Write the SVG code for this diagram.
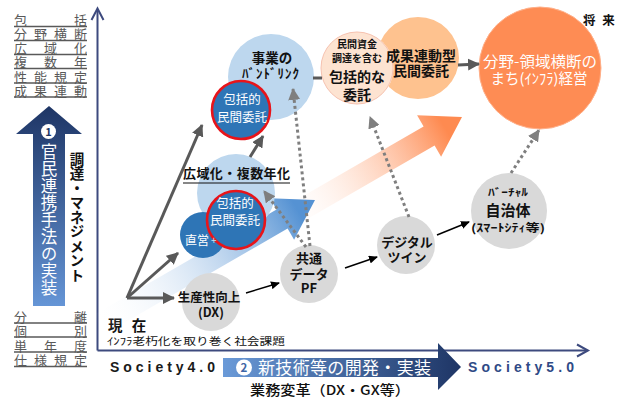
<svg xmlns="http://www.w3.org/2000/svg" width="622" height="398" viewBox="0 0 622 398">
<style>
.jp{font-family:'Noto Sans CJK JP',sans-serif}
.lbl{font-family:'Noto Sans CJK JP',sans-serif;font-size:13px;fill:#595959}
.ul{stroke:#595959;stroke-width:1.3}
.b{font-weight:bold}
.wt{fill:#fff}
.bk{fill:#111}
.c{text-anchor:middle}
.gthick{stroke:#595959;stroke-width:3;fill:none}
.dot{stroke:#7f7f7f;stroke-width:3;stroke-dasharray:3 3;fill:none}
.thin{stroke:#000;stroke-width:1.5;fill:none}
</style>
<defs>
<marker id="mg" markerUnits="userSpaceOnUse" markerWidth="12" markerHeight="12" refX="11" refY="6" orient="auto"><path d="M0,0 L12,6 L0,12 z" fill="#595959"/></marker>
<marker id="md" markerUnits="userSpaceOnUse" markerWidth="12" markerHeight="12" refX="11" refY="6" orient="auto"><path d="M0,0 L12,6 L0,12 z" fill="#7f7f7f"/></marker>
<marker id="mk" markerUnits="userSpaceOnUse" markerWidth="9" markerHeight="8" refX="8" refY="4" orient="auto"><path d="M0,0 L9,4 L0,8 z" fill="#000"/></marker>
<linearGradient id="gBlueArrow" gradientUnits="userSpaceOnUse" x1="-250" y1="0" x2="-20" y2="0"><stop offset="0" stop-color="#ffffff" stop-opacity="0"/><stop offset="1" stop-color="#5592d3"/></linearGradient>
<linearGradient id="gOrangeArrow" gradientUnits="userSpaceOnUse" x1="-210" y1="0" x2="-20" y2="0"><stop offset="0" stop-color="#ffffff" stop-opacity="0"/><stop offset="1" stop-color="#fe8a50"/></linearGradient>
<linearGradient id="gV" x1="0" y1="0" x2="0" y2="1"><stop offset="0" stop-color="#1e3565"/><stop offset="1" stop-color="#6595d6"/></linearGradient>
<linearGradient id="gH" x1="0" y1="0" x2="1" y2="0"><stop offset="0" stop-color="#6a9ad8"/><stop offset="1" stop-color="#1e3565"/></linearGradient>
<mask id="mOutcome" maskUnits="userSpaceOnUse" x="0" y="0" width="622" height="398">
<rect x="0" y="0" width="622" height="398" fill="#fff"/>
<circle cx="357" cy="68" r="36.5" fill="#000"/>
</mask>
</defs>

<!-- left labels -->
<g id="labels-top">
<text class="lbl" x="14" y="25" textLength="73" lengthAdjust="spacing">包括</text><line class="ul" x1="14" y1="26.5" x2="87" y2="26.5"/>
<text class="lbl" x="14" y="39" textLength="73" lengthAdjust="spacing">分野横断</text><line class="ul" x1="14" y1="40.5" x2="87" y2="40.5"/>
<text class="lbl" x="14" y="53" textLength="73" lengthAdjust="spacing">広域化</text><line class="ul" x1="14" y1="54.5" x2="87" y2="54.5"/>
<text class="lbl" x="14" y="67" textLength="73" lengthAdjust="spacing">複数年</text><line class="ul" x1="14" y1="68.5" x2="87" y2="68.5"/>
<text class="lbl" x="14" y="81.5" textLength="73" lengthAdjust="spacing">性能規定</text><line class="ul" x1="14" y1="83" x2="87" y2="83"/>
<text class="lbl" x="14" y="95.5" textLength="73" lengthAdjust="spacing">成果連動</text><line class="ul" x1="14" y1="97" x2="87" y2="97"/>
</g>
<g id="labels-bottom">
<text class="lbl" x="14" y="321.5" textLength="73" lengthAdjust="spacing">分離</text><line class="ul" x1="14" y1="323" x2="87" y2="323"/>
<text class="lbl" x="14" y="335.5" textLength="73" lengthAdjust="spacing">個別</text><line class="ul" x1="14" y1="337" x2="87" y2="337"/>
<text class="lbl" x="14" y="350.5" textLength="73" lengthAdjust="spacing">単年度</text><line class="ul" x1="14" y1="352" x2="87" y2="352"/>
<text class="lbl" x="14" y="365" textLength="73" lengthAdjust="spacing">仕様規定</text><line class="ul" x1="14" y1="366.5" x2="87" y2="366.5"/>
</g>

<!-- axes -->
<g id="axes" stroke="#3d4a7e" stroke-width="2" fill="none">
<line x1="97.5" y1="9" x2="97.5" y2="350.5"/>
<polyline points="91.5,20 97.5,8.5 103.5,20"/>
<line x1="97.5" y1="350.5" x2="587" y2="350.5"/>
<polyline points="577,344.5 588,350.5 577,356.5"/>
</g>

<!-- vertical arrow 1 -->
<g id="arrow1">
<polygon points="49,106 82,134 65,134 65,306 33,306 33,134 16,134" fill="url(#gV)"/>
<circle cx="48.5" cy="131.5" r="7.5" fill="#fff"/>
<text class="jp b c" x="48.5" y="136" font-size="11" fill="#1e3565">1</text>
<text class="jp wt" x="49" y="143" font-size="16.5" style="writing-mode:vertical-rl" letter-spacing="0.5">官民連携手法の実装</text>
</g>
<g id="label-procurement">
<text class="jp b bk" x="77" y="152" font-size="14.5" style="writing-mode:vertical-rl">調達・マネジメント</text>
</g>

<!-- horizontal arrow 2 -->
<g id="arrow2">
<polygon points="223,358 438,358 438,343 461,367 438,390 438,377 223,377" fill="url(#gH)"/>
<circle cx="244" cy="367.5" r="8" fill="#fff"/>
<text class="jp b c" x="244" y="372" font-size="11.5" fill="#3f66a6">2</text>
<text class="jp wt" x="258" y="373.5" font-size="17" textLength="173" lengthAdjust="spacing">新技術等の開発・実装</text>
</g>
<g id="society">
<text x="110" y="372" font-family="'Liberation Sans',sans-serif" font-weight="bold" font-size="14" fill="#1a1a1a" textLength="105" lengthAdjust="spacing">Society4.0</text>
<text x="468" y="372" font-family="'Liberation Sans',sans-serif" font-weight="bold" font-size="14" fill="#2f4a86" textLength="106" lengthAdjust="spacing">Society5.0</text>
<text class="jp bk" x="250" y="394.5" font-size="13.5" font-weight="500" textLength="160" lengthAdjust="spacingAndGlyphs">業務変革（DX・GX等）</text>
</g>
<g id="now-future">
<text class="jp b bk" x="108" y="330.5" font-size="14.5" letter-spacing="3">現 在</text>
<text class="jp bk" x="107" y="345" font-size="10.5" textLength="178" lengthAdjust="spacingAndGlyphs">ｲﾝﾌﾗ老朽化を取り巻く社会課題</text>
<text class="jp b bk" x="583" y="24.5" font-size="12.5" letter-spacing="2">将 来</text>
</g>

<!-- big gradient arrows -->
<g id="trend-arrows">
<g transform="translate(462,117) rotate(-30)"><polygon points="-210,-11 -38,-11 -38,-24 0,0 -38,24 -38,11 -210,11" fill="url(#gOrangeArrow)"/></g>
<g transform="translate(315,200) rotate(-30)"><polygon points="-250,-11 -38,-11 -38,-24 0,0 -38,24 -38,11 -250,11" fill="url(#gBlueArrow)"/></g>
</g>

<!-- nodes -->
<g id="node-bundling"><circle cx="271" cy="77" r="43" fill="#bdd7ee"/>
<text class="jp b bk c" x="272" y="63" font-size="13.5">事業の</text>
<text class="jp b bk c" x="271" y="78" font-size="13" letter-spacing="1">ﾊﾞﾝﾄﾞﾘﾝｸ</text></g>
<g id="node-wide"><circle cx="236" cy="193" r="39" fill="#bdd7ee"/>
<text class="jp b bk" x="183" y="178" font-size="13" textLength="107" lengthAdjust="spacing">広域化・複数年化</text>
<line x1="183" y1="183" x2="290" y2="183" stroke="#111" stroke-width="1.2"/></g>
<g id="node-direct"><circle cx="203" cy="235" r="23" fill="#2e75b6"/></g>
<g id="node-comp1"><circle cx="241" cy="110" r="29" fill="#2e75b6" stroke="#e8141a" stroke-width="2.6"/>
<text class="jp wt c" x="242" y="104" font-size="12.5">包括的</text>
<text class="jp wt c" x="242" y="122" font-size="12.5">民間委託</text></g>
<g id="node-comp2"><circle cx="236" cy="220" r="29" fill="#2e75b6" stroke="#e8141a" stroke-width="2.6"/>
<text class="jp wt c" x="235" y="208" font-size="12.5">包括的</text>
<text class="jp wt c" x="235" y="225" font-size="12.5">民間委託</text></g>
<g id="node-direct-label"><text class="jp wt" x="185" y="245" font-size="12">直営</text><text class="jp" x="211" y="244" font-size="10" fill="#cfe0f2">+</text></g>
<g id="node-private"><circle cx="357" cy="68" r="36" fill="#fde3d1" stroke="#f6c2b0" stroke-width="1"/>
<text class="jp b bk c" x="357" y="48" font-size="10">民間資金</text>
<text class="jp b bk c" x="357" y="62" font-size="10">調達を含む</text>
<text class="jp b bk c" x="357" y="82" font-size="14">包括的な</text>
<text class="jp b bk c" x="357" y="100" font-size="14">委託</text></g>
<g id="node-outcome"><circle cx="418" cy="58" r="41" fill="#fec28f" mask="url(#mOutcome)"/>
<text class="jp b bk c" x="421" y="61" font-size="14">成果連動型</text>
<text class="jp b bk c" x="421" y="76" font-size="14">民間委託</text></g>
<g id="node-city"><circle cx="540" cy="68" r="61" fill="#fe8c54" stroke="#ffb08a" stroke-width="1"/>
<text class="jp wt c" x="540" y="66.5" font-size="14.5" textLength="114" lengthAdjust="spacingAndGlyphs">分野-領域横断の</text>
<text class="jp wt c" x="539" y="84" font-size="14.5">まち(ｲﾝﾌﾗ)経営</text></g>
<g id="node-dx"><circle cx="211" cy="302" r="29" fill="#d9d9d9"/>
<text class="jp b bk c" x="209" y="302" font-size="12.5">生産性向上</text>
<text class="jp b bk c" x="211" y="317" font-size="12.5">(DX)</text></g>
<g id="node-pf"><circle cx="309" cy="274" r="29" fill="#d9d9d9"/>
<text class="jp b bk c" x="309" y="263" font-size="13">共通</text>
<text class="jp b bk c" x="309" y="278.5" font-size="13">データ</text>
<text class="jp b bk c" x="309" y="293" font-size="13">PF</text></g>
<g id="node-twin"><circle cx="406" cy="245" r="29" fill="#d9d9d9"/>
<text class="jp b bk c" x="407" y="246.5" font-size="13">デジタル</text>
<text class="jp b bk c" x="407" y="262" font-size="13">ツイン</text></g>
<g id="node-virtual"><circle cx="509" cy="211" r="38" fill="#d9d9d9"/>
<text class="jp b bk c" x="508" y="196" font-size="10.5" textLength="40" lengthAdjust="spacingAndGlyphs">ﾊﾞｰﾁｬﾙ</text>
<text class="jp b bk c" x="508" y="215.5" font-size="15">自治体</text>
<text class="jp b bk c" x="508" y="232" font-size="11" textLength="74" lengthAdjust="spacingAndGlyphs">(ｽﾏｰﾄｼﾃｨ等)</text></g>

<!-- connectors -->
<g id="connectors">
<line class="gthick" x1="127" y1="298" x2="202" y2="125" marker-end="url(#mg)"/>
<line class="gthick" x1="127" y1="298" x2="178" y2="253" marker-end="url(#mg)"/>
<line class="gthick" x1="127" y1="298" x2="174" y2="298" marker-end="url(#mg)"/>
<line class="gthick" x1="250" y1="157" x2="263" y2="136" marker-end="url(#mg)"/>
<line class="gthick" x1="313" y1="78" x2="322" y2="78"/>
<line class="gthick" x1="458" y1="65" x2="479" y2="64" marker-end="url(#mg)"/>
<line class="thin" x1="246" y1="293" x2="279" y2="283" marker-end="url(#mk)"/>
<line class="thin" x1="345" y1="268" x2="377" y2="257" marker-end="url(#mk)"/>
<line class="thin" x1="437" y1="235" x2="469" y2="222" marker-end="url(#mk)"/>
<line class="dot" x1="310" y1="246" x2="293" y2="89" marker-end="url(#md)"/>
<line class="dot" x1="306" y1="247" x2="264" y2="191" marker-end="url(#md)"/>
<line class="dot" x1="409" y1="217" x2="370" y2="117" marker-end="url(#md)"/>
<line class="dot" x1="511" y1="173" x2="539" y2="130" marker-end="url(#md)"/>
</g>
</svg>
